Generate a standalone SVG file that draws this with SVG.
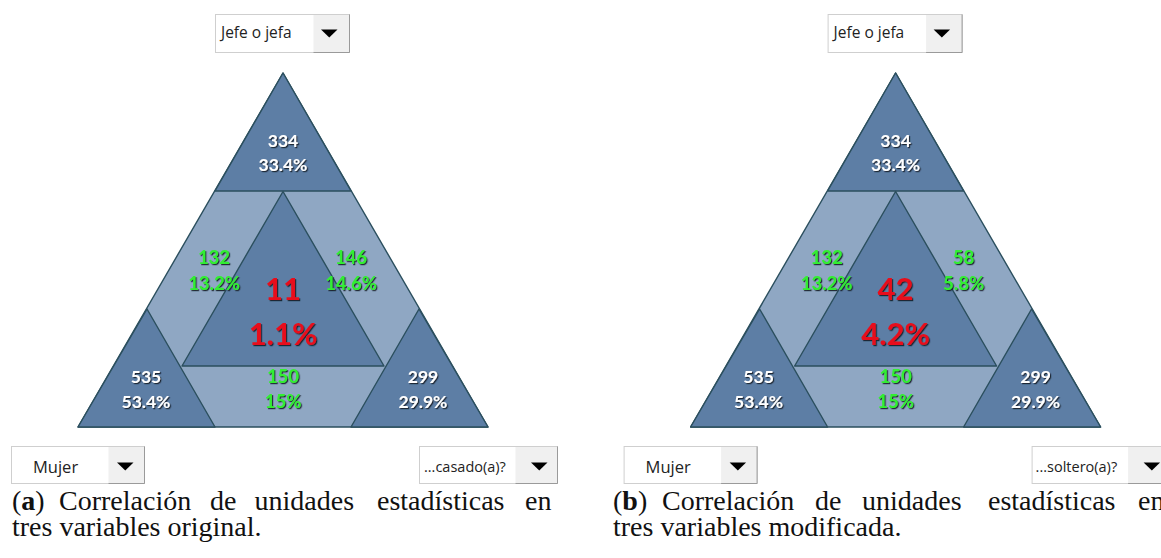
<svg xmlns="http://www.w3.org/2000/svg" width="1161" height="558" viewBox="0 0 1161 558">
<style>
.bg{fill:#ffffff}
.light{fill:#8fa7c3;stroke:#2b4f5e;stroke-width:1.4;stroke-linejoin:round}
.dark{fill:#5d7ea5;stroke:#2b4f5e;stroke-width:1.4;stroke-linejoin:round}
.lbl{font-family:Lato,"Open Sans",sans-serif;font-weight:bold;font-size:17.5px;text-anchor:middle;filter:url(#sh)}
.w{fill:#ffffff}
.g{fill:#33ee33;font-size:18.5px}
.big{font-family:Lato,"Open Sans",sans-serif;font-weight:bold;font-size:31px;text-anchor:middle;fill:#e8101a;filter:url(#sh)}
.ddbox{fill:#ffffff;stroke:#cfcfcf;stroke-width:1}
.ddbtn{fill:#f0f0f0}
.ddedge{fill:none;stroke:#9a9a9a;stroke-width:1}
.ddtxt{font-family:"Open Sans","DejaVu Sans",sans-serif;font-size:15.5px;fill:#222222}
.arrow{fill:#000000}
.cap{font-family:"Liberation Serif","DejaVu Serif",serif;font-size:28px;fill:#111111}
</style>
<defs>
<filter id="sh" x="-20%" y="-30%" width="140%" height="160%">
<feDropShadow dx="1.2" dy="1.2" stdDeviation="0.6" flood-color="#141c26" flood-opacity="0.9"/>
</filter>
</defs>
<rect class="bg" x="0" y="0" width="1161" height="558"/>

<!-- Panel A -->
<g id="panel-a">
  <g id="a-outer"><polygon class="light" points="283,73 78,427 488,427"/></g>
  <g id="a-top">
    <polygon class="dark" points="283,73 215,191 351,191"/>
    <text class="lbl w" x="283" y="147">334</text>
    <text class="lbl w" x="283" y="171">33.4%</text>
  </g>
  <g id="a-left">
    <polygon class="dark" points="147,309 78,427 215,427"/>
    <text class="lbl w" x="146" y="383">535</text>
    <text class="lbl w" x="146" y="408">53.4%</text>
  </g>
  <g id="a-right">
    <polygon class="dark" points="419,309 351,427 488,427"/>
    <text class="lbl w" x="423" y="383">299</text>
    <text class="lbl w" x="423" y="408">29.9%</text>
  </g>
  <g id="a-center">
    <polygon class="dark" points="283,191.5 182,366 384,366"/>
    <text class="big" x="283" y="300">11</text>
    <text class="big" x="283" y="345">1.1%</text>
  </g>
  <g id="a-band-left">
    <text class="lbl g" x="214" y="264">132</text>
    <text class="lbl g" x="214" y="290">13.2%</text>
  </g>
  <g id="a-band-right">
    <text class="lbl g" x="351" y="264">146</text>
    <text class="lbl g" x="351" y="290">14.6%</text>
  </g>
  <g id="a-band-bottom">
    <text class="lbl g" x="283" y="383">150</text>
    <text class="lbl g" x="283" y="408">15%</text>
  </g>
  <g id="a-dd-top">
    <rect class="ddbox" x="215.5" y="14.5" width="134" height="38"/>
    <rect class="ddbtn" x="313.5" y="15" width="35.5" height="37"/>
    <path class="ddedge" d="M313.5 52.5 H349.5 V14.5"/>
    <text class="ddtxt" x="221" y="38">Jefe o jefa</text>
    <path class="arrow" d="M321 29.5 h16.5 l-8.25 8z"/>
  </g>
  <g id="a-dd-left">
    <rect class="ddbox" x="11.5" y="446.5" width="133" height="37"/>
    <rect class="ddbtn" x="108.5" y="447" width="35.5" height="36"/>
    <path class="ddedge" d="M108.5 483.5 H144.5 V446.5"/>
    <text class="ddtxt" x="33" y="473" style="font-size:16.5px">Mujer</text>
    <path class="arrow" d="M117 462.5 h16.5 l-8.25 8z"/>
  </g>
  <g id="a-dd-right">
    <rect class="ddbox" x="419.5" y="446.5" width="138" height="37"/>
    <rect class="ddbtn" x="515.5" y="447" width="41.5" height="36"/>
    <path class="ddedge" d="M515.5 483.5 H557.5 V446.5"/>
    <text class="ddtxt" x="424" y="472" style="font-size:14.5px">...casado(a)?</text>
    <path class="arrow" d="M531 462.5 h16.5 l-8.25 8z"/>
  </g>
  <g id="a-caption">
    <text class="cap" y="510"><tspan x="12">(</tspan><tspan font-weight="bold">a</tspan><tspan>)</tspan><tspan x="59">Correlación</tspan><tspan x="210">de</tspan><tspan x="254.5">unidades</tspan><tspan x="377">estadísticas</tspan><tspan x="525">en</tspan></text>
    <text class="cap" x="12" y="536">tres variables original.</text>
  </g>
</g>

<!-- Panel B -->
<g id="panel-b">
  <g transform="translate(612.6 0)">
  <g id="b-outer"><polygon class="light" points="283,73 78,427 488,427"/></g>
  <g id="b-top">
    <polygon class="dark" points="283,73 215,191 351,191"/>
    <text class="lbl w" x="283" y="147">334</text>
    <text class="lbl w" x="283" y="171">33.4%</text>
  </g>
  <g id="b-left">
    <polygon class="dark" points="147,309 78,427 215,427"/>
    <text class="lbl w" x="146" y="383">535</text>
    <text class="lbl w" x="146" y="408">53.4%</text>
  </g>
  <g id="b-right">
    <polygon class="dark" points="419,309 351,427 488,427"/>
    <text class="lbl w" x="423" y="383">299</text>
    <text class="lbl w" x="423" y="408">29.9%</text>
  </g>
  <g id="b-center">
    <polygon class="dark" points="283,191.5 182,366 384,366"/>
    <text class="big" x="283" y="300">42</text>
    <text class="big" x="283" y="345">4.2%</text>
  </g>
  <g id="b-band-left">
    <text class="lbl g" x="214" y="264">132</text>
    <text class="lbl g" x="214" y="290">13.2%</text>
  </g>
  <g id="b-band-right">
    <text class="lbl g" x="351" y="264">58</text>
    <text class="lbl g" x="351" y="290">5.8%</text>
  </g>
  <g id="b-band-bottom">
    <text class="lbl g" x="283" y="383">150</text>
    <text class="lbl g" x="283" y="408">15%</text>
  </g>
  <g id="b-dd-top">
    <rect class="ddbox" x="215.5" y="14.5" width="134" height="38"/>
    <rect class="ddbtn" x="313.5" y="15" width="35.5" height="37"/>
    <path class="ddedge" d="M313.5 52.5 H349.5 V14.5"/>
    <text class="ddtxt" x="221" y="38">Jefe o jefa</text>
    <path class="arrow" d="M321 29.5 h16.5 l-8.25 8z"/>
  </g>
  <g id="b-dd-left">
    <rect class="ddbox" x="11.5" y="446.5" width="133" height="37"/>
    <rect class="ddbtn" x="108.5" y="447" width="35.5" height="36"/>
    <path class="ddedge" d="M108.5 483.5 H144.5 V446.5"/>
    <text class="ddtxt" x="33" y="473" style="font-size:16.5px">Mujer</text>
    <path class="arrow" d="M117 462.5 h16.5 l-8.25 8z"/>
  </g>
  <g id="b-dd-right">
    <rect class="ddbox" x="419.5" y="446.5" width="138" height="37"/>
    <rect class="ddbtn" x="515.5" y="447" width="41.5" height="36"/>
    <path class="ddedge" d="M515.5 483.5 H557.5 V446.5"/>
    <text class="ddtxt" x="423" y="472" style="font-size:14.5px">...soltero(a)?</text>
    <path class="arrow" d="M531 462.5 h16.5 l-8.25 8z"/>
  </g>
  </g>
  <g id="b-caption">
    <text class="cap" y="510"><tspan x="613">(</tspan><tspan font-weight="bold">b</tspan><tspan>)</tspan><tspan x="662">Correlación</tspan><tspan x="815">de</tspan><tspan x="862">unidades</tspan><tspan x="988">estadísticas</tspan><tspan x="1138">en</tspan></text>
    <text class="cap" x="613" y="536">tres variables modificada.</text>
  </g>
</g>
</svg>
